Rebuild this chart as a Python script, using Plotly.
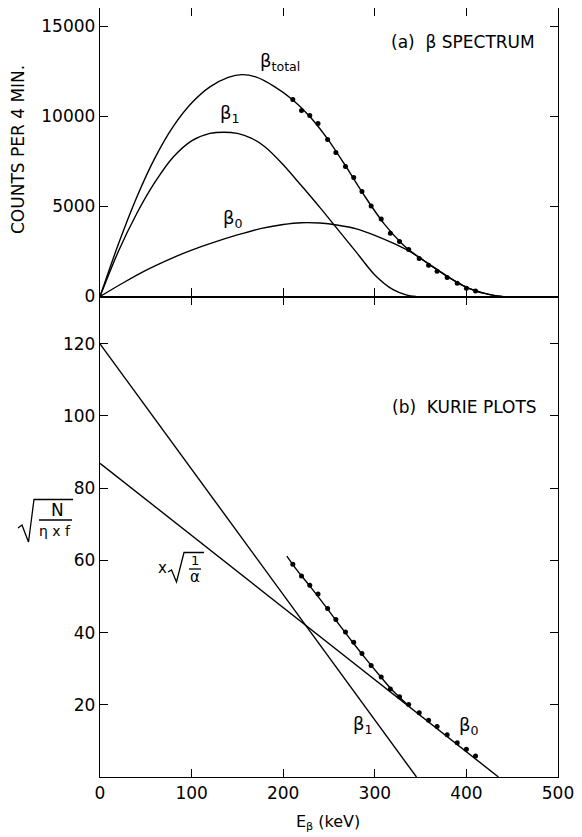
import plotly.graph_objects as go

# ---------------- data ----------------
# (a) beta spectrum curves  [keV] -> counts per 4 min
E_total = [0, 20, 40, 60, 80, 100, 120, 140, 155, 170, 190, 210, 230, 250, 270, 290,
           310, 330, 340, 350, 360, 370, 380, 390, 400, 410, 420, 430, 440]
N_total = [0, 2900, 5500, 7700, 9450, 10750, 11650, 12180, 12330, 12200, 11680, 10950,
           9950, 8650, 7100, 5500, 4050, 2920, 2480, 2120, 1770, 1420, 1090, 780, 510,
           320, 170, 60, 0]

E_beta1 = [0, 20, 40, 60, 80, 100, 120, 135, 150, 165, 180, 200, 220, 240, 260, 280,
           300, 320, 335, 345]
N_beta1 = [0, 2500, 4600, 6350, 7750, 8650, 9060, 9130, 9060, 8800, 8320, 7320, 6150,
           4950, 3700, 2450, 1200, 380, 80, 0]

E_beta0 = [0, 25, 50, 75, 100, 125, 150, 175, 200, 220, 240, 260, 280, 300, 320, 340,
           350, 360, 370, 380, 390, 400, 410, 420, 430, 438]
N_beta0 = [0, 750, 1450, 2050, 2580, 3020, 3420, 3770, 4000, 4100, 4080, 3960, 3760,
           3400, 2960, 2450, 2120, 1770, 1420, 1090, 780, 510, 320, 170, 60, 0]

# measured points
E_meas = [210.5, 220, 229, 238, 248.5, 257.5, 268, 277, 286, 296, 307, 317, 327, 337,
          348.5, 358.7, 368, 379, 390, 400, 410]
N_meas = [10945, 10334, 10056, 9612, 8723, 8000, 7223, 6612, 5840, 5030, 4300, 3515,
          3060, 2608, 2115, 1740, 1400, 1062, 740, 463, 305]
K_meas = [58.9, 55.7, 53.1, 50.7, 46.7, 43.6, 40.2, 37.3, 34.2, 30.9, 27.7, 24.4, 22.2,
          20.1, 17.8, 15.7, 14.0, 11.7, 9.5, 7.7, 5.8]

# (b) Kurie plots
E_k1 = [0, 345.5]
K_k1 = [120, 0]
E_k0 = [0, 435]
K_k0 = [86.9, 0]
E_kfit = [204, 215, 230, 245, 260, 275, 290, 305, 320, 335]
K_kfit = [61.2, 57.3, 52.6, 47.7, 42.6, 37.6, 32.8, 28.2, 23.8, 20.2]

x_ticks = [0, 100, 200, 300, 400, 500]
x_labels = ["0", "100", "200", "300", "400", "500"]
y1_ticks = [0, 5000, 10000, 15000]
y1_labels = ["0", "5000", "10000", "15000"]
y2_ticks = [20, 40, 60, 80, 100, 120]
y2_labels = ["20", "40", "60", "80", "100", "120"]

# ---------------- figure ----------------
FONT = "DejaVu Sans"
OFF = 8                      # page body margin of the written html
W, H = 582 - OFF, 837 - OFF
# plot area in reference-picture pixels
L, R, T, B = 100, 558, 8, 777


def pp(xp, yp):
    """reference pixel position -> paper coordinates (decorations only)"""
    return (xp - L) / (R - L), (B - yp) / (B - T)


line = dict(color="black", width=1.4)
fig = go.Figure()
for ex, ny in [(E_total, N_total), (E_beta1, N_beta1), (E_beta0, N_beta0)]:
    fig.add_trace(go.Scatter(x=ex, y=ny, mode="lines",
                             line=dict(shape="spline", smoothing=0.8, **line),
                             xaxis="x", yaxis="y", showlegend=False, hoverinfo="skip"))
fig.add_trace(go.Scatter(x=E_meas, y=N_meas, mode="markers",
                         marker=dict(color="black", size=5),
                         xaxis="x", yaxis="y", showlegend=False))
for ex, ky in [(E_k1, K_k1), (E_k0, K_k0)]:
    fig.add_trace(go.Scatter(x=ex, y=ky, mode="lines", line=line, xaxis="x2", yaxis="y2",
                             showlegend=False, hoverinfo="skip", cliponaxis=False))
fig.add_trace(go.Scatter(x=E_kfit, y=K_kfit, mode="lines", line=dict(shape="spline", **line),
                         xaxis="x2", yaxis="y2", showlegend=False, hoverinfo="skip"))
fig.add_trace(go.Scatter(x=E_meas, y=K_meas, mode="markers",
                         marker=dict(color="black", size=5),
                         xaxis="x2", yaxis="y2", showlegend=False))

split = (B - 296.5) / (B - T)
ax_common = dict(showline=True, linecolor="black", linewidth=1.4, mirror="ticks",
                 ticks="inside", ticklen=8, tickwidth=1.2, tickcolor="black",
                 showgrid=False, zeroline=False,
                 tickfont=dict(family=FONT, size=17, color="black"))

fig.update_layout(
    width=W, height=H,
    margin=dict(l=L - OFF, r=W - (R - OFF), t=T - OFF, b=H - (B - OFF)),
    paper_bgcolor="white", plot_bgcolor="white",
    xaxis=dict(domain=[0, 1], range=[0, 500], anchor="y", tickvals=x_ticks,
               showticklabels=False, **ax_common),
    yaxis=dict(domain=[split, 1], range=[0, 16030], anchor="x", tickvals=y1_ticks,
               ticktext=y1_labels, **ax_common),
    xaxis2=dict(domain=[0, 1], range=[0, 500], anchor="y2", tickvals=x_ticks,
                ticktext=x_labels, **ax_common),
    yaxis2=dict(domain=[0, split], range=[0, 133.1], anchor="x2", tickvals=y2_ticks,
                ticktext=y2_labels, **ax_common),
)

ann = []


def txt(text, x, y, size=16, xref="x", yref="y", xanchor="left", yanchor="middle", angle=0):
    ann.append(dict(text=text, x=x, y=y, xref=xref, yref=yref, showarrow=False,
                    xanchor=xanchor, yanchor=yanchor, textangle=angle,
                    font=dict(family=FONT, size=size, color="black")))


# top panel labels
txt("β<sub>total</sub>", 173, 13050, size=18)
txt("β<sub>1</sub>", 129, 10150, size=18)
txt("β<sub>0</sub>", 132, 4300, size=18)
txt("(a)  β SPECTRUM", 316, 14150, size=17)
# bottom panel labels
txt("(b)  KURIE PLOTS", 317, 102.5, size=17, xref="x2", yref="y2")
txt("β<sub>1</sub>", 274, 14.5, size=18, xref="x2", yref="y2")
txt("β<sub>0</sub>", 390, 14.2, size=18, xref="x2", yref="y2")

# axis titles
x_, y_ = pp(18, 150)
txt("COUNTS PER 4 MIN.", x_, y_, size=17, xref="paper", yref="paper", xanchor="center",
    angle=-90)
x_, y_ = pp(328, 822)
txt("E<sub>β</sub> (keV)", x_, y_, size=16, xref="paper", yref="paper", xanchor="center")

# sqrt(N / (eta x f)) label on the left of the Kurie panel
x_, y_ = pp(57, 510)
txt("N", x_, y_, size=17, xref="paper", yref="paper", xanchor="center")
x_, y_ = pp(55, 531)
txt("η x f", x_, y_, size=14, xref="paper", yref="paper", xanchor="center")

# x sqrt(1/alpha) label inside the Kurie panel
x_, y_ = pp(162, 568)
txt("x", x_, y_, size=15, xref="paper", yref="paper", xanchor="center")
x_, y_ = pp(195, 560)
txt("1", x_, y_, size=13, xref="paper", yref="paper", xanchor="center")
x_, y_ = pp(195, 577)
txt("α", x_, y_, size=15, xref="paper", yref="paper", xanchor="center")

fig.update_layout(annotations=ann)


def path(points):
    s = ""
    for i, (a, b) in enumerate(points):
        xa, yb = pp(a, b)
        s += ("M" if i == 0 else "L") + f"{xa:.5f},{yb:.5f} "
    return s


shapes = [
    # radical for sqrt(N/(eta x f))
    dict(type="path", xref="paper", yref="paper",
         path=path([(18, 528), (22, 525), (28.5, 542), (34, 499.5), (73, 499.5)]),
         line=dict(color="black", width=1.3)),
    dict(type="line", xref="paper", yref="paper",
         x0=pp(39, 0)[0], x1=pp(72, 0)[0], y0=pp(0, 520)[1], y1=pp(0, 520)[1],
         line=dict(color="black", width=1.3)),
    # radical for x sqrt(1/alpha)
    dict(type="path", xref="paper", yref="paper",
         path=path([(168, 572), (171.5, 570), (176.5, 582), (184, 552.5), (204, 552.5)]),
         line=dict(color="black", width=1.3)),
    dict(type="line", xref="paper", yref="paper",
         x0=pp(189, 0)[0], x1=pp(201, 0)[0], y0=pp(0, 569)[1], y1=pp(0, 569)[1],
         line=dict(color="black", width=1.3)),
]
fig.update_layout(shapes=shapes)

fig.write_html("out.html")
